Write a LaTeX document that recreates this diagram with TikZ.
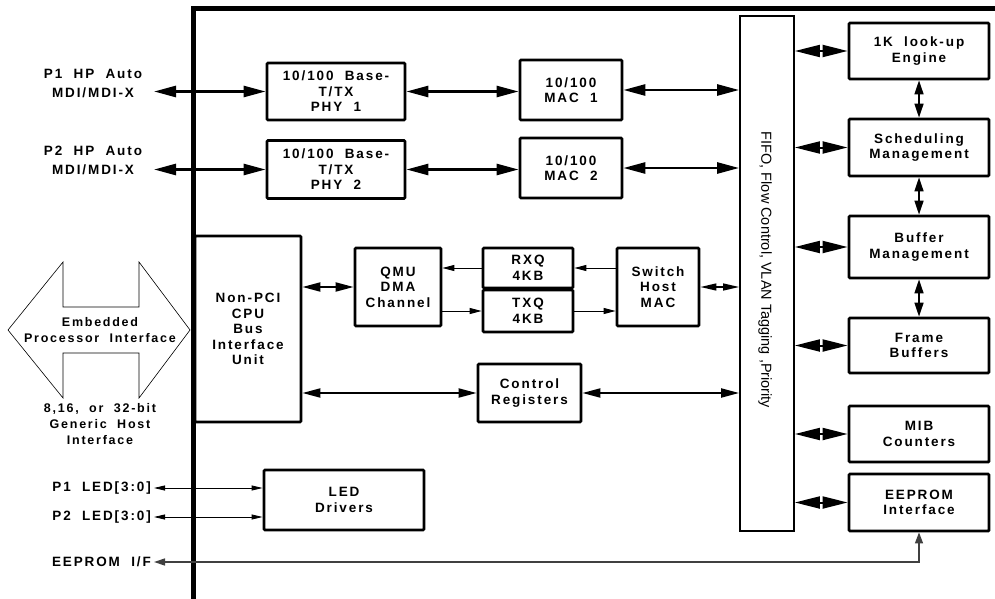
\documentclass[tikz,border=0pt]{standalone}
\usepackage{fontspec}
\setmainfont{Liberation Sans}[LetterSpace=14,WordSpace=2]
\newfontfamily\fifofont{Liberation Sans}
\usetikzlibrary{arrows.meta}

\begin{document}
\begin{tikzpicture}[x=1pt,y=-1pt,
		blk/.style={draw,line width=2.8pt,rounded corners=1pt,inner sep=0pt,align=center,font=\bfseries\fontsize{13.5}{15.5}\selectfont},
		lbl/.style={inner sep=0pt,align=center,font=\bfseries\fontsize{13.5}{15.5}\selectfont},
		bigarrow/.style={line width=2.6pt,{Triangle[length=22pt,width=11pt]}-{Triangle[length=22pt,width=11pt]}},
		midarrow/.style={line width=2pt,{Triangle[length=18pt,width=9pt]}-{Triangle[length=18pt,width=9pt]}},
		stubarrow/.style={line width=2pt,{Triangle[length=25pt,width=12pt]}-{Triangle[length=25pt,width=12pt]}},
		vertarrow/.style={line width=1.6pt,{Triangle[length=14pt,width=9pt]}-{Triangle[length=14pt,width=9pt]}},
		hostarrow/.style={line width=1.4pt,{Triangle[length=16pt,width=7pt]}-{Triangle[length=16pt,width=7pt]}},
		thinarrow/.style={line width=1pt,-{Triangle[length=12pt,width=6pt]}},
		ledarrow/.style={line width=0.8pt,{Triangle[length=11pt,width=5pt]}-{Triangle[length=11pt,width=5pt]}},
		eearrow/.style={draw=black!75,line width=1.4pt,{Triangle[length=11pt,width=7pt]}-{Triangle[length=11pt,width=8pt]}}]
		\useasboundingbox(0,0)rectangle(995,599);
		% chip outline
		\draw[line width=5pt](193,599)--(193,9)--(995,9);
		% port blocks
		\node[blk,minimum width=138,minimum height=57](phyA)at(336,91.5){10/100 Base-\\T/TX\\PHY 1};
		\node[blk,minimum width=138,minimum height=58](phyB)at(336,169.5){10/100 Base-\\T/TX\\PHY 2};
		\node[blk,minimum width=102,minimum height=60](macA)at(571,90){10/100\\MAC 1};
		\node[blk,minimum width=102,minimum height=60](macB)at(571,168){10/100\\MAC 2};
		\node[draw,line width=1.8pt,minimum width=54,minimum height=515](fifo)at(767,273.5){};
		\node[rotate=-90,inner sep=0pt,font=\fifofont\fontsize{14.5}{17}\selectfont](fifotxt)at(765,270){FIFO, Flow Control, VLAN Tagging ,Priority};
		% switch engine
		\node[blk,minimum width=140,minimum height=56](lookup)at(919,51){1K look-up\\Engine};
		\node[blk,minimum width=140,minimum height=57](sched)at(919,147.5){Scheduling\\Management};
		\node[blk,minimum width=140,minimum height=62](bufmgmt)at(919,247){Buffer\\Management};
		\node[blk,minimum width=140,minimum height=55](frame)at(919,345.5){Frame\\Buffers};
		\node[blk,minimum width=140,minimum height=56](mib)at(919,434){MIB\\Counters};
		\node[blk,minimum width=140,minimum height=57](eeprom)at(919,502.5){EEPROM\\Interface};
		% host side
		\node[blk,minimum width=106,minimum height=186](cpu)at(248,329){Non-PCI\\CPU\\Bus\\Interface\\Unit};
		\node[blk,minimum width=86,minimum height=78](qmu)at(398,287){QMU\\DMA\\Channel};
		\node[blk,minimum width=90,minimum height=40](rxq)at(528,268){RXQ\\4KB};
		\node[blk,minimum width=90,minimum height=42](txq)at(528,311){TXQ\\4KB};
		\node[blk,minimum width=82,minimum height=78](hostmac)at(658,287){Switch\\Host\\MAC};
		\node[blk,minimum width=103,minimum height=58](ctrl)at(529.5,393){Control\\Registers};
		\node[blk,minimum width=160,minimum height=60](led)at(344,500){LED\\Drivers};
		% pins
		\node[lbl,font=\bfseries\fontsize{13.5}{19}\selectfont](p1lbl)at(93,83){P1 HP Auto\\MDI/MDI-X};
		\node[lbl,font=\bfseries\fontsize{13.5}{19}\selectfont](p2lbl)at(93,160){P2 HP Auto\\MDI/MDI-X};
		\node[lbl,font=\bfseries\fontsize{12.5}{16}\selectfont](emblbl)at(100,330){Embedded\\Processor Interface};
		\node[lbl,font=\bfseries\fontsize{12.5}{16}\selectfont](buslbl)at(100,424){8,16, or 32-bit\\Generic Host\\Interface};
		\node[lbl,anchor=east](led1lbl)at(151,488){P1 LED[3:0]};
		\node[lbl,anchor=east](led2lbl)at(151,517){P2 LED[3:0]};
		\node[lbl,anchor=east](eelbl)at(151,562){EEPROM I/F};
		\coordinate(p1pin)at(154,91.5);
		\coordinate(p2pin)at(154,169.5);
		\coordinate(led1pin)at(154,488);
		\coordinate(led2pin)at(154,517);
		\coordinate(eepin)at(154,562);
		% processor interface arrow
		\draw[line width=0.6pt](8,330)--(63,262)--(63,307)--(139,307)--(139,262)--(190,330)--(139,398)--(139,353)--(63,353)--(63,398)--cycle;
		% connectors
		\draw[bigarrow](p1pin)--(phyA.west);
		\draw[bigarrow](p2pin)--(phyB.west);
		\draw[bigarrow](phyA.east)--(phyA.east-|macA.west);
		\draw[bigarrow](phyB.east)--(phyB.east-|macB.west);
		\draw[bigarrow](macA.east)--(macA.east-|fifo.west);
		\draw[bigarrow](macB.east)--(macB.east-|fifo.west);
		\foreach \blkname in {lookup,sched,bufmgmt,frame,mib,eeprom}
			\draw[stubarrow](fifo.east|-\blkname.west)--(\blkname.west);
		\draw[vertarrow](lookup.south)--(sched.north);
		\draw[vertarrow](sched.south)--(bufmgmt.north);
		\draw[vertarrow](bufmgmt.south)--(frame.north);
		\draw[midarrow](cpu.east|-qmu.west)--(qmu.west);
		\draw[thinarrow](rxq.west)--(rxq.west-|qmu.east);
		\draw[thinarrow](qmu.east|-txq.west)--(txq.west);
		\draw[thinarrow](hostmac.west|-rxq.east)--(rxq.east);
		\draw[thinarrow](txq.east)--(txq.east-|hostmac.west);
		\draw[hostarrow](hostmac.east)--(hostmac.east-|fifo.west);
		\draw[midarrow](cpu.east|-ctrl.west)--(ctrl.west);
		\draw[midarrow](ctrl.east)--(ctrl.east-|fifo.west);
		\draw[ledarrow](led1pin)--(led1pin-|led.west);
		\draw[ledarrow](led2pin)--(led2pin-|led.west);
		\draw[eearrow](eepin)-|(eeprom.south);
	\end{tikzpicture}
\end{document}
